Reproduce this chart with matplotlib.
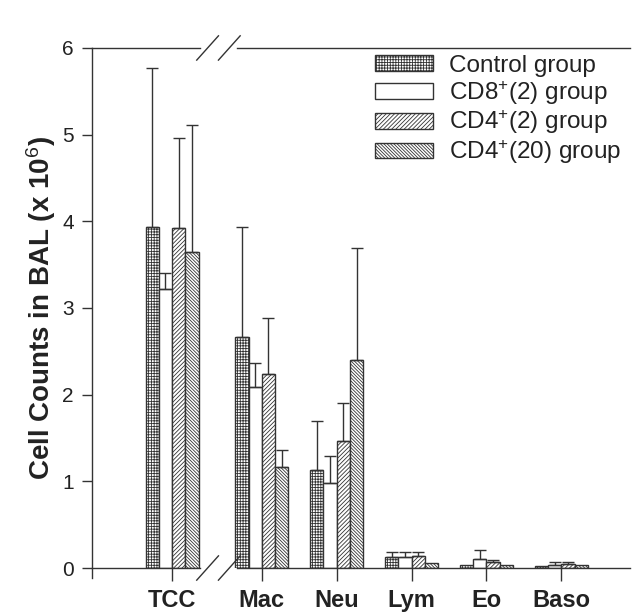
import numpy as np
import matplotlib
matplotlib.use("Agg")
import matplotlib.pyplot as plt

plt.rcParams['font.family'] = ['Liberation Sans', 'DejaVu Sans']
plt.rcParams['mathtext.fontset'] = 'custom'
plt.rcParams['mathtext.rm'] = 'Liberation Sans'
plt.rcParams['mathtext.bf'] = 'Liberation Sans:bold'
plt.rcParams['mathtext.it'] = 'Liberation Sans:italic'
plt.rcParams['hatch.linewidth'] = 0.6

# cell types along the x axis (TCC is set apart by an axis break)
categories = ['TCC', 'Mac', 'Neu', 'Lym', 'Eo', 'Baso']
positions = [0.0, 1.2, 2.2, 3.2, 4.2, 5.2]

groups = ['Control group', 'CD8$^{+}$(2) group', 'CD4$^{+}$(2) group', 'CD4$^{+}$(20) group']

# means (x 10^6 cells)
control = [3.93, 2.66, 1.13, 0.13, 0.03, 0.02]
cd8_2 = [3.22, 2.09, 0.98, 0.13, 0.10, 0.03]
cd4_2 = [3.92, 2.24, 1.47, 0.14, 0.07, 0.05]
cd4_20 = [3.65, 1.16, 2.40, 0.06, 0.03, 0.04]

# upper end of the error bars (mean + SD)
control_hi = [5.77, 3.93, 1.70, 0.19, 0.03, 0.02]
cd8_2_hi = [3.40, 2.37, 1.29, 0.19, 0.21, 0.07]
cd4_2_hi = [4.96, 2.88, 1.90, 0.19, 0.09, 0.07]
cd4_20_hi = [5.11, 1.36, 3.69, 0.06, 0.03, 0.04]

means = [control, cd8_2, cd4_2, cd4_20]
uppers = [control_hi, cd8_2_hi, cd4_2_hi, cd4_20_hi]
hatches = ['++++++', '', '////////', '\\' * 10]

fig = plt.figure(figsize=(6.34, 6.15), dpi=100)
ax = fig.add_axes([0.145, 0.0764, 0.849, 0.8456])

w = 0.177
offsets = np.array([-1.5, -0.5, 0.5, 1.5]) * w
x = np.array(positions)
edge = '#333333'
txt = '#222222'

for i in range(4):
    m = np.array(means[i])
    hi = np.array(uppers[i])
    ax.bar(x + offsets[i], m, width=w, color='white', edgecolor=edge,
           hatch=hatches[i], linewidth=1.0, label=groups[i], zorder=2)
    up = hi - m
    sel = up > 0
    ax.errorbar((x + offsets[i])[sel], m[sel], yerr=[np.zeros(sel.sum()), up[sel]],
                fmt='none', ecolor=edge, elinewidth=1.0, capsize=4, capthick=1.0,
                zorder=3)

ax.set_xlim(-1.07, 6.12)
ax.set_ylim(0, 6)

# broken frame: left spine only, top and bottom drawn by hand
for s in ['top', 'bottom', 'right']:
    ax.spines[s].set_visible(False)
ax.spines['left'].set_color(edge)
ax.spines['left'].set_linewidth(1.0)
ax.spines['left'].set_bounds(-0.12, 6)

brk_l, brk_r = 0.37, 0.87
for yv in (0, 6):
    ax.plot([-1.07, brk_l], [yv, yv], color=edge, lw=1.0, clip_on=False, zorder=4)
    ax.plot([brk_r, 6.12], [yv, yv], color=edge, lw=1.0, clip_on=False, zorder=4)
for x0 in (0.33, 0.62):
    for yv in (0, 6):
        ax.plot([x0, x0 + 0.29], [yv - 0.14, yv + 0.14], color=edge, lw=1.0,
                clip_on=False, zorder=4)

ax.set_yticks(range(7))
ax.tick_params(axis='y', direction='out', length=7, width=1.0, color=edge,
               labelsize=15, labelcolor=txt, pad=6)
ax.set_xticks(positions)
ax.set_xticklabels(categories, fontsize=17, fontweight='bold', color=txt)
ax.tick_params(axis='x', direction='out', length=9, width=1.0, color=edge, pad=6)

ax.set_ylabel('Cell Counts in BAL (x 10$^{6}$)', fontsize=20, fontweight='bold',
              color=txt, labelpad=3)

leg = ax.legend(loc='upper left', bbox_to_anchor=(0.526, 0.987), frameon=False,
                fontsize=17.5, handlelength=2.4, handleheight=0.6,
                handletextpad=0.66, labelspacing=0.08, borderaxespad=0,
                borderpad=0)
for t in leg.get_texts():
    t.set_color(txt)

fig.savefig('out.png', dpi=100, facecolor='white')
